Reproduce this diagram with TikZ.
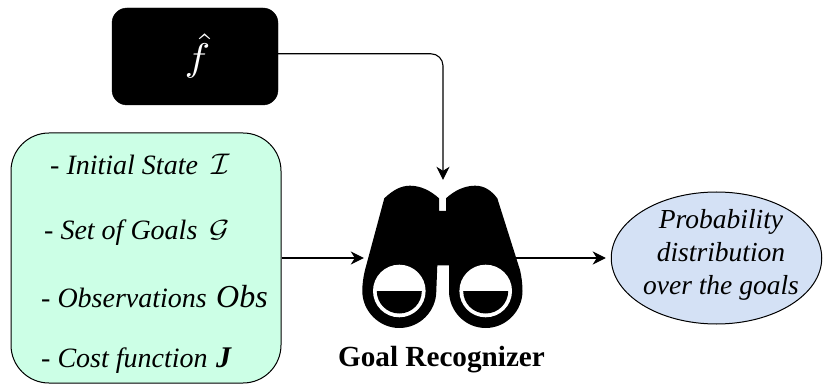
\documentclass[tikz,border=0pt]{standalone}
\usepackage{fontspec}
\setmainfont{Liberation Serif}
\usetikzlibrary{arrows.meta,shapes.geometric}
\definecolor{inputgreen}{HTML}{CCFFE6}
\definecolor{outputblue}{HTML}{D4E1F5}
\tikzset{
  flow/.style={line width=1.1pt,-{Stealth[length=13pt,width=13pt,inset=4pt]}},
  itemtext/.style={anchor=base west,inner sep=0pt,font=\fontsize{28}{32}\itshape},
}
\begin{document}
\begin{tikzpicture}[x=1pt,y=-1pt]
\useasboundingbox (0,0) rectangle (823,385);
% boxes
\node[draw=black,line width=1pt,fill=inputgreen,rounded corners=38pt,minimum width=270pt,minimum height=250pt,inner sep=0pt] (input) at (146,258) {};
\node[draw=black,fill=black,rounded corners=15pt,minimum width=166pt,minimum height=97pt,inner sep=0pt] (fhat) at (195,56.5) {};
\node[inner sep=0pt,text=white] (fhatlabel) at (197.5,56) {\scalebox{4.3}[3.85]{\(\hat{f}\)}};
\node[draw=black,line width=1pt,fill=outputblue,ellipse,minimum width=210.5pt,minimum height=132pt,inner sep=0pt] (output) at (716.5,258) {};
\node[inner sep=0pt,align=center,font=\fontsize{27.5}{33}\itshape] (outputlabel) at (721,255) {Probability\\distribution\\over the goals};
% invisible frame of the binoculars
\node[minimum width=158pt,minimum height=156pt,inner sep=0pt] (binoc) at (443,258) {};
% connectors
\draw[flow,rounded corners=12pt] ([yshift=2.7pt]fhat.east) -| (binoc.north);
\draw[flow] (input.east |- binoc.west) -- (binoc.west);
\draw[flow,shorten >=5pt,shorten <=-10pt] (binoc.east) -- (output.west |- binoc.east);
% binoculars
\fill[black] (384.3,198.3) .. controls (393,190) and (401,185.7) .. (410,185.7)
  .. controls (421,185.7) and (431,191) .. (439,198.3)
  -- (439,211) -- (446,211) -- (446,198.3)
  .. controls (454,191) and (464,185.7) .. (475,185.7)
  .. controls (484,185.7) and (491,190) .. (497.3,198.3)
  -- (520,270)
  .. controls (521.5,276) and (522.5,284) .. (522.5,291)
  .. controls (522.5,311) and (506,328) .. (485.7,328)
  .. controls (465,328) and (449,311) .. (449,291)
  -- (449,265.5) -- (437.3,265.5) -- (436.3,291)
  .. controls (436.3,311) and (420,328) .. (399.3,328)
  .. controls (379,328) and (362.3,311) .. (362.3,291)
  .. controls (362.3,284) and (363.3,277) .. (365,270)
  -- cycle;
\fill[white] (399.3,291) circle[radius=26.3];
\fill[white] (485.7,291) circle[radius=26.3];
\fill[black] (376.8,291) arc[start angle=180,end angle=0,radius=22.5] -- cycle;
\fill[black] (463.2,291) arc[start angle=180,end angle=0,radius=22.5] -- cycle;
\node[anchor=base,inner sep=0pt,font=\fontsize{29.2}{33}\bfseries] (goalrec) at (441.5,366) {Goal Recognizer};
% inputs
\node[itemtext] (t1) at (50,175) {- Initial State};
\node[itemtext] (s1) at (211,175) {\scalebox{1.2}{\(\mathcal{I}\)}};
\node[itemtext] (t2) at (44,240) {- Set of Goals};
\node[itemtext] (s2) at (209,238) {\scalebox{1.25}[1]{\(\mathcal{G}\)}};
\node[itemtext] (t3) at (41,307) {- Observations};
\node[itemtext,font=\fontsize{32}{34}\itshape] (s3) at (216,308) {Obs};
\node[itemtext] (t4) at (41,367) {- Cost function};
\node[itemtext,font=\fontsize{30}{32}\bfseries\itshape] (s4) at (216,367) {J};
\end{tikzpicture}
\end{document}
